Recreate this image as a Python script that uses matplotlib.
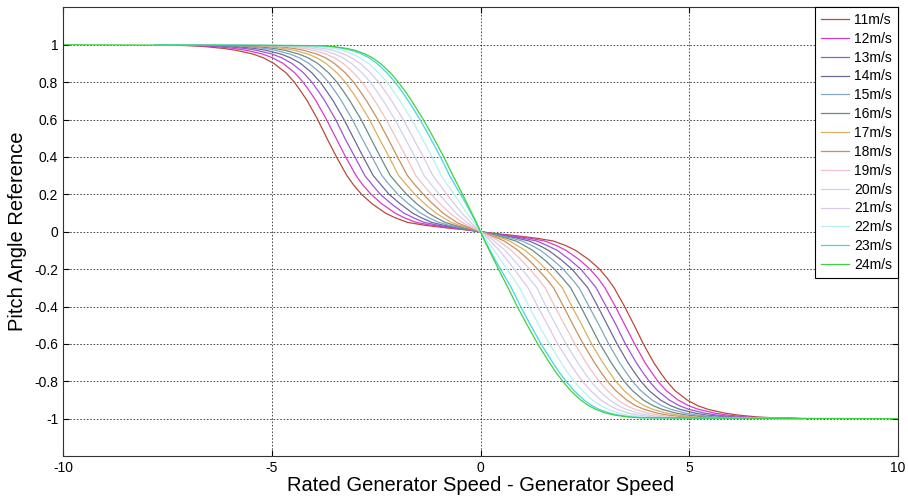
import matplotlib
matplotlib.use('Agg')
import matplotlib.pyplot as plt
import numpy as np

# 风速对应的桨距角参考曲线（右半支，左半支按奇对称镜像）
speeds = ['11m/s', '12m/s', '13m/s', '14m/s', '15m/s', '16m/s', '17m/s',
          '18m/s', '19m/s', '20m/s', '21m/s', '22m/s', '23m/s', '24m/s']

# |y| 的取值水平
levels = [0, 0.01, 0.02, 0.035, 0.05, 0.075, 0.1, 0.15, 0.2, 0.25, 0.3, 0.4, 0.5,
          0.6, 0.7, 0.75, 0.8, 0.85, 0.9, 0.93, 0.95, 0.97, 0.98, 0.99, 0.995, 1.0]

# 每条曲线到达上面各水平时的 x（速度差）
x_11 = [0, 0.35, 0.80, 1.35, 1.75, 2.05, 2.28, 2.60, 2.85, 3.04, 3.20, 3.45, 3.68,
        3.90, 4.15, 4.30, 4.46, 4.66, 4.95, 5.20, 5.45, 5.85, 6.15, 6.60, 7.00, 7.80]
x_12 = [0, 0.31, 0.70, 1.19, 1.54, 1.83, 2.05, 2.37, 2.62, 2.82, 2.98, 3.23, 3.46,
        3.69, 3.94, 4.09, 4.25, 4.45, 4.73, 4.98, 5.22, 5.61, 5.90, 6.34, 6.73, 7.80]
x_13 = [0, 0.27, 0.60, 1.03, 1.35, 1.61, 1.84, 2.14, 2.40, 2.59, 2.77, 3.01, 3.25,
        3.47, 3.73, 3.88, 4.04, 4.24, 4.52, 4.76, 4.99, 5.37, 5.65, 6.07, 6.46, 7.80]
x_14 = [0, 0.23, 0.52, 0.89, 1.17, 1.42, 1.63, 1.93, 2.19, 2.38, 2.57, 2.81, 3.04,
        3.27, 3.53, 3.68, 3.84, 4.04, 4.31, 4.55, 4.78, 5.14, 5.41, 5.83, 6.20, 7.80]
x_15 = [0, 0.19, 0.44, 0.76, 1.00, 1.24, 1.44, 1.73, 1.98, 2.18, 2.36, 2.60, 2.84,
        3.07, 3.33, 3.48, 3.64, 3.84, 4.11, 4.34, 4.56, 4.91, 5.18, 5.58, 5.94, 7.80]
x_16 = [0, 0.16, 0.37, 0.63, 0.85, 1.06, 1.25, 1.53, 1.77, 1.97, 2.16, 2.40, 2.63,
        2.86, 3.13, 3.28, 3.44, 3.64, 3.90, 4.13, 4.35, 4.68, 4.94, 5.33, 5.69, 7.80]
x_17 = [0, 0.13, 0.30, 0.52, 0.70, 0.89, 1.07, 1.34, 1.57, 1.77, 1.96, 2.19, 2.43,
        2.66, 2.93, 3.08, 3.24, 3.44, 3.70, 3.92, 4.13, 4.45, 4.71, 5.08, 5.43, 7.80]
x_18 = [0, 0.11, 0.24, 0.42, 0.57, 0.74, 0.90, 1.15, 1.37, 1.57, 1.75, 1.99, 2.22,
        2.46, 2.73, 2.88, 3.04, 3.24, 3.50, 3.71, 3.92, 4.23, 4.47, 4.83, 5.18, 7.80]
x_19 = [0, 0.08, 0.18, 0.32, 0.44, 0.59, 0.74, 0.97, 1.18, 1.37, 1.55, 1.78, 2.02,
        2.26, 2.53, 2.68, 2.84, 3.04, 3.29, 3.50, 3.70, 4.00, 4.23, 4.59, 4.92, 7.80]
x_20 = [0, 0.06, 0.13, 0.24, 0.33, 0.46, 0.59, 0.79, 0.99, 1.17, 1.35, 1.57, 1.81,
        2.05, 2.33, 2.48, 2.64, 2.84, 3.09, 3.30, 3.49, 3.77, 4.00, 4.34, 4.66, 7.80]
x_21 = [0, 0.04, 0.09, 0.17, 0.24, 0.34, 0.45, 0.63, 0.81, 0.97, 1.14, 1.37, 1.61,
        1.85, 2.13, 2.28, 2.44, 2.64, 2.88, 3.09, 3.27, 3.54, 3.76, 4.09, 4.41, 7.80]
x_22 = [0, 0.03, 0.06, 0.11, 0.16, 0.24, 0.33, 0.48, 0.63, 0.79, 0.94, 1.16, 1.40,
        1.65, 1.93, 2.08, 2.24, 2.44, 2.68, 2.88, 3.06, 3.31, 3.53, 3.84, 4.15, 7.80]
x_23 = [0, 0.02, 0.04, 0.08, 0.11, 0.17, 0.23, 0.35, 0.48, 0.61, 0.74, 0.96, 1.20,
        1.45, 1.73, 1.88, 2.05, 2.24, 2.48, 2.67, 2.84, 3.09, 3.29, 3.59, 3.90, 7.80]
x_24 = [0, 0.02, 0.04, 0.07, 0.10, 0.155, 0.21, 0.32, 0.43, 0.545, 0.66, 0.88, 1.12,
        1.37, 1.65, 1.80, 1.97, 2.16, 2.40, 2.59, 2.76, 3.00, 3.20, 3.50, 3.80, 10.0]

crossings = [x_11, x_12, x_13, x_14, x_15, x_16, x_17,
             x_18, x_19, x_20, x_21, x_22, x_23, x_24]

colors = ['#b84a3a', '#d63cc8', '#9f55d6', '#6a6a9a', '#80a8c0', '#6a8a8a', '#d8b060',
          '#c89060', '#f0c0c8', '#d0d0f0', '#dcc8e8', '#b8f0f0', '#40d8e0', '#40d040']

plt.rcParams['font.family'] = ['Liberation Sans', 'DejaVu Sans']
plt.rcParams['axes.unicode_minus'] = False

fig = plt.figure(figsize=(9.08, 4.98), dpi=100)
ax = fig.add_axes([0.0694, 0.0841, 0.9196, 0.9012])

lv = np.asarray(levels)
for name, xs, c in zip(speeds, crossings, colors):
    xh = np.asarray(xs)
    x = np.concatenate([-xh[::-1], xh[1:]])
    y = np.concatenate([lv[::-1], -lv[1:]])
    ax.plot(x, y, color=c, lw=0.9, label=name)

ax.set_xlim(-10, 10)
ax.set_ylim(-1.2, 1.2)
ax.set_xticks([-10, -5, 0, 5, 10])
ax.set_yticks(np.arange(-1.0, 1.01, 0.2))
ax.set_yticklabels(['-1', '-0.8', '-0.6', '-0.4', '-0.2', '0', '0.2', '0.4', '0.6', '0.8', '1'])
ax.tick_params(direction='in', top=True, right=True, length=4, labelsize=10)
ax.grid(True, color='k', ls=(0, (2, 2)), lw=0.6, alpha=0.8)
for s in ax.spines.values():
    s.set_linewidth(0.8)
    s.set_color('#333333')

ax.set_xlabel('Rated Generator Speed - Generator Speed', fontsize=14.5, labelpad=1)
ax.set_ylabel('Pitch Angle Reference', fontsize=14.5, labelpad=5)

leg = ax.legend(loc='upper right', fontsize=10, frameon=True, fancybox=False,
                borderaxespad=0.0, handlelength=2.0, handletextpad=0.4,
                labelspacing=0.35, borderpad=0.4)
leg.get_frame().set_edgecolor('k')
leg.get_frame().set_linewidth(0.8)
leg.get_frame().set_alpha(1.0)

plt.savefig('out.png', dpi=100)
plt.close()
